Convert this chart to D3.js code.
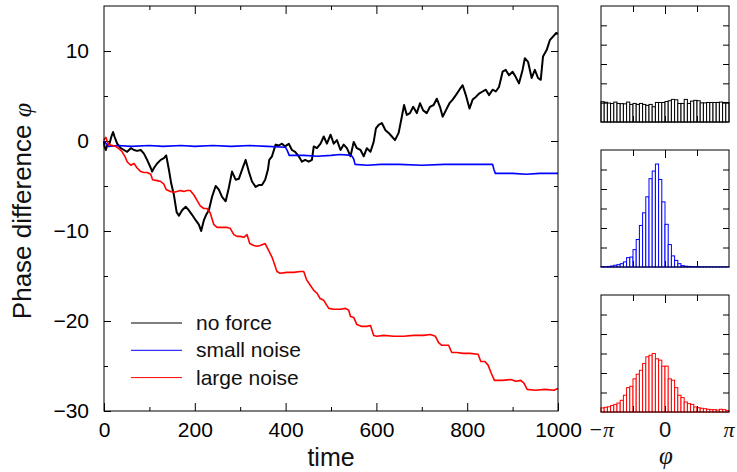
<!DOCTYPE html>
<html>
<head>
<meta charset="utf-8">
<script src="https://cdn.jsdelivr.net/npm/d3@7"></script>
<style>
  body { margin: 0; background: #fff; }
  svg { display: block; font-family: "Liberation Sans", Arial, sans-serif; }
  .tick line { stroke: #000; }
</style>
</head>
<body>
<div class="root"></div>
<script>
var width = 737,
    height = 472;

// phase difference traces, [time, phi]
var noForce = [[0,0],[1,-0.6],[4,-1.0],[7,-0.5],[12,-0.3],[17,0.6],[20,1.0],[23,0.5],[29,-0.3],[37,-0.8],[44,-1.0],[51,-1.2],[59,-0.8],[66,-1.0],[73,-1.1],[81,-1.0],[88,-1.4],[95,-2.1],[103,-3.0],[106,-3.4],[110,-3.0],[117,-2.5],[125,-2.1],[132,-1.9],[137,-1.6],[143,-3.2],[148,-4.7],[154,-6.0],[160,-7.9],[165,-8.3],[172,-7.7],[180,-7.3],[187,-7.7],[194,-8.2],[202,-8.8],[209,-9.3],[214,-10.0],[220,-8.8],[225,-8.2],[231,-7.7],[238,-6.2],[246,-5.0],[253,-5.4],[260,-6.2],[268,-6.7],[275,-5.2],[282,-3.4],[290,-4.3],[297,-4.2],[304,-3.2],[312,-2.1],[319,-3.4],[326,-4.5],[334,-5.1],[341,-4.9],[348,-4.9],[355,-4.3],[361,-3.2],[364,-2.1],[370,-1.7],[378,-0.4],[385,-0.5],[392,-0.3],[399,-0.6],[407,-0.3],[414,-1.0],[421,-1.2],[429,-1.7],[436,-2.3],[443,-2.1],[451,-2.3],[458,-2.1],[462,-0.6],[469,-0.8],[477,-0.3],[484,0.5],[491,-0.3],[499,0.7],[506,-0.3],[513,0.1],[521,-1.0],[528,-0.4],[535,-0.8],[543,-1.7],[550,-0.1],[557,-0.8],[565,-1.0],[572,-1.7],[579,-0.8],[587,-1.2],[594,-0.1],[599,1.4],[605,1.8],[612,2.0],[620,1.2],[627,0.9],[634,0.5],[641,0.1],[649,0.9],[656,2.7],[661,4.0],[667,2.9],[674,3.1],[681,3.8],[689,3.1],[696,4.2],[703,3.4],[711,3.1],[718,3.8],[726,4.0],[733,4.7],[740,3.8],[746,2.7],[753,3.4],[761,4.2],[768,4.6],[775,5.1],[783,5.7],[790,6.2],[797,5.1],[805,3.6],[812,4.6],[819,4.9],[827,5.3],[834,5.5],[841,5.7],[848,5.1],[856,5.7],[863,5.5],[870,6.0],[878,7.7],[885,7.9],[892,7.3],[900,7.7],[907,7.1],[914,6.4],[922,7.9],[927,9.2],[934,8.8],[942,7.0],[949,7.9],[956,7.0],[962,6.8],[967,9.4],[975,10.1],[982,11.2],[989,11.6],[996,12.0],[1000,11.9]];

var smallNoise = [[0,0],[5,-0.3],[10,-0.6],[30,-0.5],[60,-0.6],[100,-0.5],[130,-0.6],[170,-0.5],[200,-0.6],[240,-0.5],[280,-0.6],[320,-0.5],[360,-0.6],[400,-0.7],[404,-1.1],[408,-1.6],[440,-1.6],[470,-1.7],[500,-1.6],[520,-1.5],[545,-1.6],[550,-2.0],[553,-2.6],[580,-2.7],[610,-2.6],[650,-2.6],[700,-2.7],[750,-2.6],[800,-2.6],[856,-2.6],[859,-3.2],[862,-3.6],[900,-3.6],[930,-3.7],[960,-3.6],[1000,-3.6]];

var largeNoise = [[0,0.1],[1,0.2],[4,0.4],[10,-0.4],[18,-0.5],[26,-0.6],[34,-0.9],[40,-1.2],[46,-1.7],[51,-2.3],[59,-2.7],[66,-2.5],[73,-3.0],[81,-3.4],[88,-3.5],[95,-3.5],[103,-3.7],[107,-4.3],[117,-4.4],[125,-4.5],[132,-4.8],[137,-5.4],[146,-5.6],[154,-5.7],[161,-5.6],[168,-5.5],[176,-5.6],[183,-5.5],[190,-5.5],[198,-6.0],[205,-6.6],[212,-7.2],[220,-7.5],[227,-7.5],[234,-8.0],[242,-9.3],[249,-9.6],[256,-9.6],[264,-9.6],[271,-9.6],[278,-9.7],[286,-10.4],[293,-10.6],[300,-10.6],[308,-10.7],[315,-10.4],[321,-11.4],[330,-11.6],[337,-11.7],[344,-11.6],[355,-11.4],[362,-12.1],[370,-12.9],[375,-13.6],[381,-14.5],[388,-14.7],[403,-14.6],[418,-14.6],[432,-14.5],[440,-14.5],[446,-15.4],[454,-16.0],[462,-16.6],[469,-16.9],[476,-17.5],[484,-17.7],[495,-18.6],[506,-18.7],[521,-18.7],[532,-18.6],[539,-18.8],[543,-19.5],[550,-19.6],[557,-20.4],[568,-20.6],[579,-20.6],[587,-20.5],[594,-21.6],[601,-21.7],[616,-21.6],[638,-21.7],[660,-21.7],[682,-21.6],[704,-21.6],[719,-21.5],[730,-21.7],[737,-22.4],[744,-22.7],[759,-22.7],[766,-23.5],[777,-23.5],[791,-23.6],[806,-23.6],[824,-23.7],[830,-24.5],[839,-24.5],[846,-24.9],[853,-25.8],[860,-26.6],[878,-26.6],[896,-26.5],[907,-26.7],[918,-26.6],[925,-26.9],[932,-27.6],[950,-27.7],[972,-27.6],[991,-27.7],[1000,-27.5]];

// histograms of phi mod 2pi, 40 bins from -pi to pi
var histNoForce = [1.05,1.02,0.98,0.96,1.03,0.96,0.95,0.94,1.03,0.91,0.96,0.91,0.96,0.91,0.86,0.91,0.79,1.01,1.01,1.01,1.06,1.10,1.17,1.15,0.96,0.96,1.17,0.96,1.08,1.12,1.10,0.99,0.99,1.01,1.01,1.01,1.01,1.03,1.01,1.01];
var histSmall = [0.02,0.02,0.03,0.05,0.09,0.12,0.17,0.26,0.48,0.51,0.89,1.41,2.13,2.78,3.60,4.53,4.92,5.28,4.49,3.34,2.19,1.15,0.57,0.34,0.17,0.07,0.04,0.03,0.02,0.02,0.02,0.01,0.01,0.01,0.01,0.01,0.01,0.01,0.01,0.01];
var histLarge = [0.21,0.24,0.27,0.33,0.39,0.46,0.60,0.86,1.25,1.32,1.70,1.94,2.14,2.49,2.83,2.91,3.00,2.73,2.66,2.35,2.35,1.70,1.63,1.25,0.86,0.74,0.51,0.43,0.39,0.26,0.22,0.19,0.17,0.14,0.12,0.12,0.10,0.14,0.12,0.07];

var seriesNames = ["no force", "small noise", "large noise"],
    colors = ["#000000", "#0000ff", "#ff0000"];

var yTicks = [-30, -20, -10, 0, 10],
    xTicks = [0, 200, 400, 600, 800, 1000],
    phiTicks = [-Math.PI, 0, Math.PI],
    phiTickLabels = ["\u2212\u03c0", "0", "\u03c0"];

var svg = d3.select(".root")
          .append("svg")
          .attr("width", width)
          .attr("height", height);

// ---- main panel ----
var x = d3.scaleLinear().domain([0, 1000]).range([104, 558]);
var y = d3.scaleLinear().domain([-30, 15]).range([411, 6]);

svg.append("g")
    .attr("transform", "translate(104,0)")
    .call(d3.axisLeft(y).tickValues(d3.range(-25, 15, 10)).tickSize(-4).tickFormat(""))
    .call(g => g.select(".domain").remove());
svg.append("g")
    .attr("transform", "translate(558,0)")
    .call(d3.axisRight(y).tickValues(d3.range(-25, 15, 5)).tickSize(-7).tickFormat(""))
    .call(g => g.selectAll(".tick line").attr("x2", d => d % 10 === 0 ? -7 : -4))
    .call(g => g.select(".domain").remove());
svg.append("g")
    .attr("transform", "translate(104,0)")
    .call(d3.axisLeft(y).tickValues(yTicks).tickSize(-7).tickPadding(15)
          .tickFormat(d => d < 0 ? "\u2212" + Math.abs(d) : d))
    .call(g => g.select(".domain").remove())
    .call(g => g.selectAll("text").attr("font-size", 21).attr("fill", "#000").attr("font-family", null));

svg.append("g")
    .attr("transform", "translate(0,411)")
    .call(d3.axisBottom(x).tickValues(xTicks).tickSize(-8).tickFormat(d => d))
    .call(g => g.select(".domain").remove())
    .call(g => g.selectAll("text").attr("font-size", 21).attr("fill", "#000")
                .attr("font-family", null).attr("y", 26).attr("dy", 0));
svg.append("g")
    .attr("transform", "translate(0,411)")
    .call(d3.axisBottom(x).tickValues(d3.range(100, 1000, 200)).tickSize(-4).tickFormat(""))
    .call(g => g.select(".domain").remove());
svg.append("g")
    .attr("transform", "translate(0,6)")
    .call(d3.axisTop(x).tickValues(d3.range(100, 1000, 100)).tickSize(-4).tickFormat(""))
    .call(g => g.selectAll(".tick line").attr("y2", d => d % 200 === 0 ? 8 : 4))
    .call(g => g.select(".domain").remove());

var line = d3.line()
    .x(d => x(d[0]))
    .y(d => y(d[1]));

var traces = [noForce, smallNoise, largeNoise];
svg.append("g").selectAll("path")
    .data(traces)
  .enter().append("path")
    .attr("d", line)
    .attr("fill", "none")
    .attr("stroke", (d, i) => colors[i])
    .attr("stroke-width", (d, i) => i === 0 ? 2 : 1.6)
    .attr("stroke-linejoin", "round");

svg.append("rect")
    .attr("x", 104).attr("y", 6)
    .attr("width", 454).attr("height", 405)
    .attr("fill", "none")
    .attr("stroke", "#000");

// legend
var legend = svg.append("g").selectAll("g")
    .data(seriesNames)
  .enter().append("g")
    .attr("transform", (d, i) => "translate(131," + (323 + i * 27.3) + ")");
legend.append("line")
    .attr("x1", 0).attr("x2", 51)
    .attr("stroke", (d, i) => colors[i])
    .attr("stroke-width", 1);
legend.append("text")
    .attr("x", 65).attr("y", 7)
    .attr("font-size", 21)
    .attr("fill", "#111")
    .text(d => d);

// axis titles
var yl = svg.append("text")
    .attr("transform", "translate(31,211) rotate(-90)")
    .attr("text-anchor", "middle")
    .attr("font-size", 26)
    .attr("fill", "#111");
yl.append("tspan").text("Phase difference ");
yl.append("tspan").attr("font-style", "italic").attr("font-family", "Liberation Serif, serif").text("\u03c6");

svg.append("text")
    .attr("x", 331).attr("y", 466)
    .attr("text-anchor", "middle")
    .attr("font-size", 25)
    .attr("fill", "#111")
    .text("time");

// ---- histogram panels ----
var nBins = 40;
var binEdges = d3.range(nBins + 1).map(i => -Math.PI + i * 2 * Math.PI / nBins);
var xh = d3.scaleLinear().domain([-Math.PI, Math.PI]).range([601, 729]);

var panels = [
  { data: histNoForce, color: colors[0], top: 6, bottom: 122 },
  { data: histSmall, color: colors[1], top: 150, bottom: 267 },
  { data: histLarge, color: colors[2], top: 295, bottom: 412 }
];

panels.forEach(function(p) {
  var yh = d3.scaleLinear().domain([0, 6]).range([p.bottom, p.top]);
  var g = svg.append("g");

  g.selectAll("rect.bar")
      .data(p.data)
    .enter().append("rect")
      .attr("class", "bar")
      .attr("x", (d, i) => xh(binEdges[i]))
      .attr("width", (d, i) => xh(binEdges[i + 1]) - xh(binEdges[i]))
      .attr("y", d => yh(d))
      .attr("height", d => yh(0) - yh(d))
      .attr("fill", "#fff")
      .attr("stroke", p.color)
      .attr("stroke-width", 1);

  g.append("g").attr("transform", "translate(601,0)")
      .call(d3.axisLeft(yh).tickValues([1, 2, 3, 4, 5]).tickSize(-6).tickFormat(""))
      .call(s => s.select(".domain").remove());
  g.append("g").attr("transform", "translate(729,0)")
      .call(d3.axisRight(yh).tickValues([1, 2, 3, 4, 5]).tickSize(-6).tickFormat(""))
      .call(s => s.select(".domain").remove());
  g.append("g").attr("transform", "translate(0," + p.top + ")")
      .call(d3.axisTop(xh).tickValues([-Math.PI / 2, 0, Math.PI / 2]).tickSize(-6).tickFormat(""))
      .call(s => s.selectAll(".tick line").attr("y2", d => d === 0 ? 8 : 6))
      .call(s => s.select(".domain").remove());
  g.append("g").attr("transform", "translate(0," + p.bottom + ")")
      .call(d3.axisBottom(xh).tickValues([-Math.PI / 2, 0, Math.PI / 2]).tickSize(-6).tickFormat(""))
      .call(s => s.select(".domain").remove());

  g.append("rect")
      .attr("x", 601).attr("y", p.top)
      .attr("width", 128).attr("height", p.bottom - p.top)
      .attr("fill", "none")
      .attr("stroke", "#000");
});

svg.append("g").selectAll("text")
    .data(phiTicks)
  .enter().append("text")
    .attr("x", d => xh(d))
    .attr("y", 437)
    .attr("text-anchor", "middle")
    .attr("font-size", 22)
    .attr("fill", "#111")
    .attr("font-family", (d, i) => d === 0 ? null : "Liberation Serif, serif")
    .attr("font-style", (d, i) => d === 0 ? null : "italic")
    .text((d, i) => phiTickLabels[i]);

svg.append("text")
    .attr("x", 666).attr("y", 464)
    .attr("text-anchor", "middle")
    .attr("font-size", 25)
    .attr("font-style", "italic")
    .attr("font-family", "Liberation Serif, serif")
    .attr("fill", "#111")
    .text("\u03c6");
</script>
</body>
</html>
